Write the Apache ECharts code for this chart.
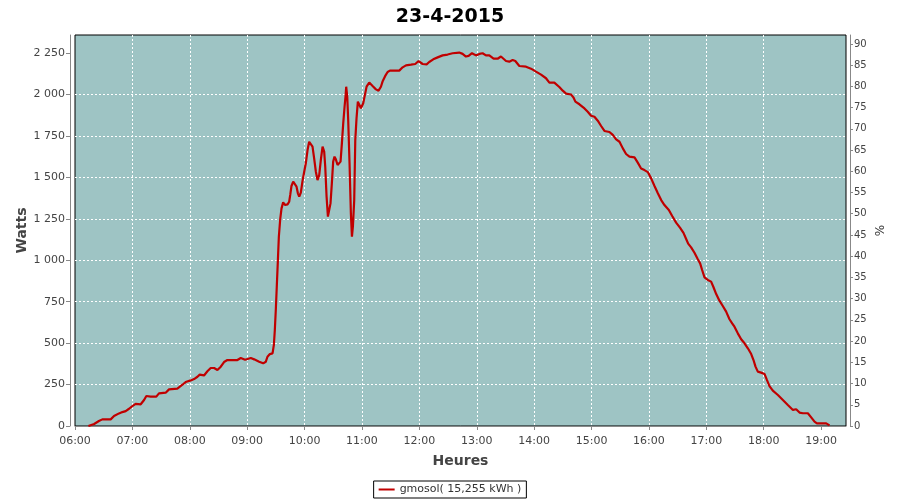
<!DOCTYPE html>
<html>
<head>
<meta charset="utf-8">
<script src="https://cdn.jsdelivr.net/npm/echarts@6/dist/echarts.min.js"></script>
<style>html,body{margin:0;padding:0;background:#fff}#c{width:900px;height:500px}</style>
</head>
<body>
<div id="c"></div>
<script>
const title = '23-4-2015';
const seriesName = 'gmosol( 15,255 kWh )';
// minutes since midnight
const minutes = [374,380,385,388.6,397.3,400.8,406,409.5,413,416.5,420,423.4,428.7,432.2,434.6,439.1,445,447.8,454.8,458.3,467,472.3,475.7,481,484.5,488,490.4,494.9,498.4,501.9,505.4,508.9,512.4,515.8,519.3,529.8,533.3,537.8,543.8,547.3,552.5,556.7,559.5,561.2,563.7,566.5,567.9,568.9,570,571,572.1,573.1,574.5,575.9,577.6,579.7,582.2,583.9,585,586.3,588.1,589.8,591.6,593,594.4,596.1,597.9,599.6,601.3,603.1,604.8,606.6,608.3,610,611.8,613.5,615.3,617,618.8,620.5,621.6,623,624.4,625.7,627.1,628.5,629.9,631.3,632.7,634.5,636.2,637.6,639,640.4,641.8,642.8,643.5,644.6,645.6,647,648.4,649.5,650.5,651.9,653,654.3,655.7,657.1,658.9,661.3,663.4,664.8,667.6,671.1,674.6,677.3,679.8,681.5,684.3,686.8,689.2,699,702.5,706,711.2,715.7,719.2,720.9,723.4,727.6,730.3,734.5,739.1,744.3,749.5,751.3,754.8,761.7,765.2,768.7,771.5,775,779.2,782.7,786.1,789.6,793.1,797.6,801.8,805.3,810.6,814,817.5,820.3,824.5,831.5,836.7,841.9,847.2,852.4,855.9,861.1,866.3,869.9,873.4,878.6,881,883.1,887.3,892.6,896,899.5,903,906.5,910,913.5,918.7,922.2,925.7,929.2,932.7,936.1,939.6,944.9,948.3,951.8,955.3,958.8,962.3,965.8,969.3,972.8,976.2,980.8,984.3,988.4,992.6,996.1,998.9,1001,1004.1,1007.6,1011.1,1013.5,1015.6,1018.1,1021.5,1025,1027.5,1030.3,1033.7,1037.2,1040.7,1044.2,1047,1049.4,1052.9,1056.4,1059.9,1063.4,1066.9,1069.3,1071.4,1073.8,1077.3,1080.8,1083.3,1086,1089.5,1094.8,1100,1105.2,1110.5,1113.9,1117.4,1120.9,1126.1,1129.6,1133.1,1135.6,1145.3,1148.8];
const watts = [0,12,30,40,40,60,76,84,90,104,120,133,131,157,181,177,177,197,201,221,225,249,265,275,283,297,310,305,330,350,350,338,358,386,398,398,410,400,410,402,388,378,388,418,434,438,489,579,710,849,1001,1142,1247,1313,1349,1333,1337,1353,1394,1448,1474,1478,1444,1404,1384,1408,1480,1534,1585,1665,1715,1725,1685,1615,1534,1484,1514,1605,1685,1655,1564,1384,1263,1273,1343,1464,1595,1625,1609,1575,1569,1595,1705,1826,1926,1987,2047,1987,1846,1585,1283,1142,1203,1363,1725,1856,1957,1947,1917,1947,2007,2047,2072,2051,2031,2023,2047,2078,2112,2136,2144,2144,2164,2176,2180,2184,2202,2208,2184,2182,2196,2212,2224,2236,2241,2235,2249,2253,2245,2229,2233,2249,2236,2245,2249,2236,2236,2216,2216,2229,2202,2198,2208,2202,2172,2168,2156,2138,2120,2098,2072,2072,2045,2023,2005,2000,1983,1957,1941,1916,1896,1872,1866,1842,1810,1780,1774,1756,1729,1715,1675,1641,1625,1621,1589,1554,1544,1532,1494,1448,1404,1363,1333,1303,1267,1227,1195,1165,1128,1100,1078,1045,1006,981,941,897,881,871,837,796,756,724,690,644,619,599,559,523,499,469,434,398,358,328,322,314,278,241,213,187,157,127,97,101,81,77,77,52,26,16,16,4];
const xTicks = [360,420,480,540,600,660,720,780,840,900,960,1020,1080,1140];
const wattTicks = [0,250,500,750,1000,1250,1500,1750,2000,2250];
const pctTicks = [0,5,10,15,20,25,30,35,40,45,50,55,60,65,70,75,80,85,90];

const data = minutes.map((m, i) => [m, watts[i]]);
const FONT = 'DejaVu Sans';
const pad = n => (n < 10 ? '0' : '') + n;
const fmtTime = v => pad(Math.floor(v / 60)) + ':' + pad(Math.round(v % 60));
const fmtThousands = v => String(v).replace(/\B(?=(\d{3})+(?!\d))/g, ' ');

const chart = echarts.init(document.getElementById('c'), null, {renderer: 'canvas'});
chart.setOption({
  animation: false,
  backgroundColor: '#ffffff',
  title: {
    text: title, left: 'center', top: 3,
    textStyle: {fontFamily: FONT, fontSize: 19, fontWeight: 'bold', color: '#000'}
  },
  legend: {
    data: [seriesName], bottom: 2, left: 'center',
    borderColor: '#000', borderWidth: 1, padding: [3, 5, 3, 5],
    icon: 'rect', itemWidth: 16, itemHeight: 2, itemGap: 4,
    textStyle: {fontFamily: FONT, fontSize: 11, color: '#333'}
  },
  grid: {
    left: 75, right: 54, top: 35, bottom: 74, containLabel: false,
    show: true, backgroundColor: '#9ec4c4', borderColor: '#000', borderWidth: 1
  },
  xAxis: {
    type: 'value', min: 360, max: 1166, interval: 60, offset: 5,
    name: 'Heures', nameLocation: 'middle', nameGap: 23,
    nameTextStyle: {fontFamily: FONT, fontSize: 14, fontWeight: 'bold', color: '#444'},
    axisLine: {show: true, lineStyle: {color: '#888', width: 1}},
    axisTick: {show: true, length: 4, lineStyle: {color: '#888'}, customValues: xTicks},
    axisLabel: {fontFamily: FONT, fontSize: 11, color: '#444', margin: 5, customValues: xTicks, formatter: fmtTime},
    splitLine: {show: true, showMinLine: false, showMaxLine: false, lineStyle: {color: '#fff', type: [2, 2], width: 1}}
  },
  yAxis: [{
    type: 'value', min: 0, max: 2359, interval: 250, offset: 5, position: 'left',
    name: 'Watts', nameLocation: 'middle', nameGap: 41, nameMoveOverlap: false,
    nameTextStyle: {fontFamily: FONT, fontSize: 14, fontWeight: 'bold', color: '#444'},
    axisLine: {show: true, lineStyle: {color: '#888', width: 1}},
    axisTick: {show: true, length: 4, lineStyle: {color: '#888'}, customValues: wattTicks},
    axisLabel: {fontFamily: FONT, fontSize: 11, color: '#444', margin: 5, customValues: wattTicks, formatter: fmtThousands},
    splitLine: {show: true, showMinLine: false, showMaxLine: false, lineStyle: {color: '#fff', type: [2, 2], width: 1}}
  }, {
    type: 'value', min: 0, max: 92.1, interval: 5, offset: 4, position: 'right',
    name: '%', nameLocation: 'middle', nameGap: 25, nameRotate: 90, nameMoveOverlap: false,
    nameTextStyle: {fontFamily: FONT, fontSize: 12, color: '#333'},
    axisLine: {show: true, lineStyle: {color: '#888', width: 1}},
    axisTick: {show: true, length: 3, lineStyle: {color: '#888'}, customValues: pctTicks},
    axisLabel: {fontFamily: FONT, fontSize: 10, color: '#444', margin: 4, customValues: pctTicks},
    splitLine: {show: false}
  }],
  series: [{
    name: seriesName, type: 'line', data: data, yAxisIndex: 0,
    showSymbol: false, symbol: 'none',
    lineStyle: {color: '#c00000', width: 2.2},
    itemStyle: {color: '#c00000'}
  }, {
    type: 'line', yAxisIndex: 1, data: [], silent: true
  }]
});
</script>
</body>
</html>
